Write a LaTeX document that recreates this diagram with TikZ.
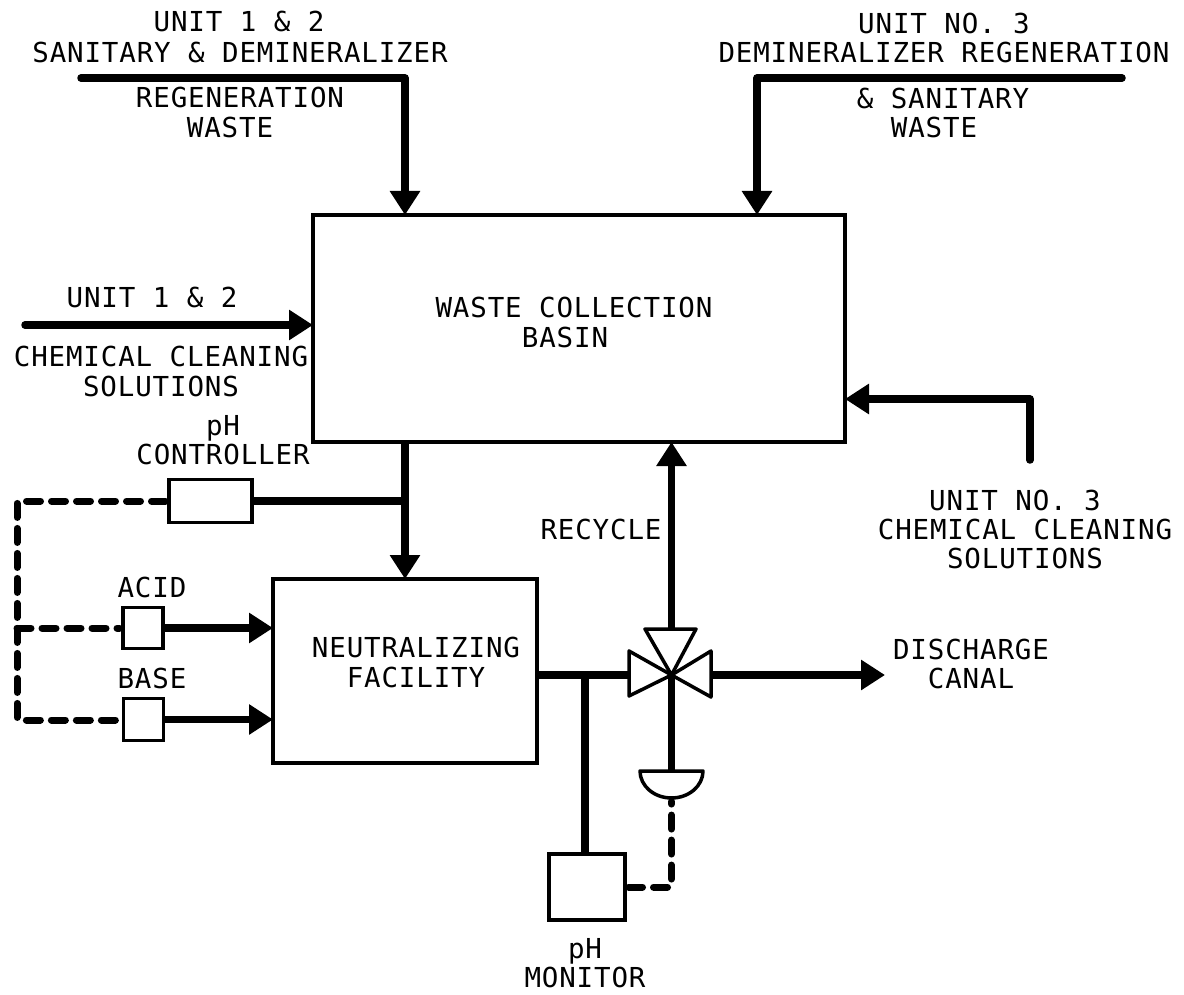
\documentclass[tikz,border=0pt]{standalone}
\usepackage{fontspec}
\setmonofont[LetterSpace=3.1]{DejaVu Sans Mono}
\usepackage{tikz}
\usetikzlibrary{positioning,arrows.meta}

\begin{document}
\begin{tikzpicture}[
    x=1pt, y=-1pt,
    font=\ttfamily\fontsize{27.5}{29.5}\selectfont,
    box/.style={draw, line width=3.5pt, inner sep=0pt, outer sep=0pt},
    lbl/.style={align=center, inner sep=0pt},
    pipe/.style={line width=7.5pt},
    arr/.style={pipe, -{Triangle[length=24pt, width=29pt]}},
    free/.style={line cap=round, line join=round},
    ctrl/.style={line width=7pt, line cap=round, dash pattern=on 14pt off 11pt, rounded corners=2pt, shorten <=3.5pt, shorten >=3.5pt},
    valve/.style={draw, line width=3.5pt, line join=round, fill=white},
]
\useasboundingbox (0,0) rectangle (1184,995);

\node[box, minimum width=532pt, minimum height=227pt] (basin) at (579,328.5) {};
\node[box, minimum width=264pt, minimum height=184pt] (neut) at (405,671) {};
\node[box, minimum width=83pt, minimum height=43pt] (phctrl) at (210.5,501) {};
\node[box, minimum width=40pt, minimum height=41pt] (acid) at (143,628) {};
\node[box, minimum width=40pt, minimum height=42pt] (base) at (143.5,719.5) {};
\node[box, minimum width=76pt, minimum height=66pt] (monitor) at (587,887) {};

\coordinate (valve) at (671.5,675);
\coordinate (sensor) at (671.5,771);
\coordinate (sensorb) at (671.5,798);
\coordinate (topa) at (81,78);
\coordinate (topacor) at (405,78);
\coordinate (topb) at (1122,78);
\coordinate (topbcor) at (757,78);
\coordinate (leftin) at (25,325);
\coordinate (rightin) at (1030,460);
\coordinate (rightcor) at (1030,399);
\coordinate (bas) at (405,442);
\coordinate (tee) at (585,675);
\coordinate (disch) at (885,675);
\coordinate (bend) at (671.5,887);
\coordinate (ctrlcor) at (17,501);
\coordinate (basecor) at (17,720);

\node[lbl] (l1) at (239,21) {UNIT 1 \& 2};
\node[lbl] (l2) at (240,52) {SANITARY \& DEMINERALIZER};
\node[lbl] (l3) at (240,97) {REGENERATION};
\node[lbl] (l4) at (230,127) {WASTE};
\node[lbl] (r1) at (944,23) {UNIT NO. 3};
\node[lbl] (r2) at (944,52) {DEMINERALIZER REGENERATION};
\node[lbl] (r3) at (943,98) {\& SANITARY};
\node[lbl] (r4) at (934,127) {WASTE};
\node[lbl] (c1) at (152,297) {UNIT 1 \& 2};
\node[lbl] (c2) at (161,371.5) {CHEMICAL CLEANING\\SOLUTIONS};
\node[lbl] (c3) at (1015,500) {UNIT NO. 3};
\node[lbl] (c4) at (1025,544) {CHEMICAL CLEANING\\SOLUTIONS};
\node[lbl, above=14pt of phctrl.north, xshift=12.5pt] (phlbl) {pH\\CONTROLLER};
\node[lbl, above=9pt of acid.north, xshift=9pt] (acidlbl) {ACID};
\node[lbl, above=9pt of base.north, xshift=8.5pt] (baselbl) {BASE};
\node[lbl] (basinlbl) at (574,307) {WASTE COLLECTION};
\node[lbl] (basinlb2) at (565,337) {BASIN};
\node[lbl] (neutlbl) at (416,662.5) {NEUTRALIZING\\FACILITY};
\node[lbl] (reclbl) at (601,529) {RECYCLE};
\node[lbl] (disclbl) at (971,664) {DISCHARGE\\CANAL};
\node[lbl] (monlbl) at (585,963) {pH\\MONITOR};

\draw[arr, free] (topa) -- (topacor) -- (topacor |- basin.north);
\draw[arr, free] (topb) -- (topbcor) -- (topbcor |- basin.north);
\draw[arr, free] (leftin) -- (leftin -| basin.west);
\draw[arr, free] (rightin) -- (rightcor) -- (rightcor -| basin.east);
\draw[arr] (bas) -- (bas |- neut.north);
\draw[pipe] (phctrl.east) -- (phctrl.east -| bas);
\draw[arr] (acid.east) -- (acid.east -| neut.west);
\draw[arr] (base.east) -- (base.east -| neut.west);
\draw[arr] (valve) -- (valve |- basin.south);
\draw[arr] (valve) -- (disch);
\draw[pipe] (neut.east |- valve) -- (valve);
\draw[pipe] (tee) -- (tee |- monitor.north);
\draw[pipe] (valve) -- (sensor);

\draw[valve] (valve) -- (645,629) -- (696,629) -- cycle;
\draw[valve] (valve) -- (629,651) -- (629,696) -- cycle;
\draw[valve] (valve) -- (711,651) -- (711,697) -- cycle;
\draw[valve] (640,771) -- (703,771) arc[start angle=0, end angle=180, x radius=31.5pt, y radius=-27pt] -- cycle;

\draw[ctrl] (monitor.east |- bend) -- (bend) -- (sensorb);
\draw[ctrl] (phctrl.west) -- (ctrlcor) -- (basecor) -- (base.west |- basecor);
\draw[ctrl, shorten <=0pt] (acid.west -| ctrlcor) -- (acid.west);
\end{tikzpicture}
\end{document}
